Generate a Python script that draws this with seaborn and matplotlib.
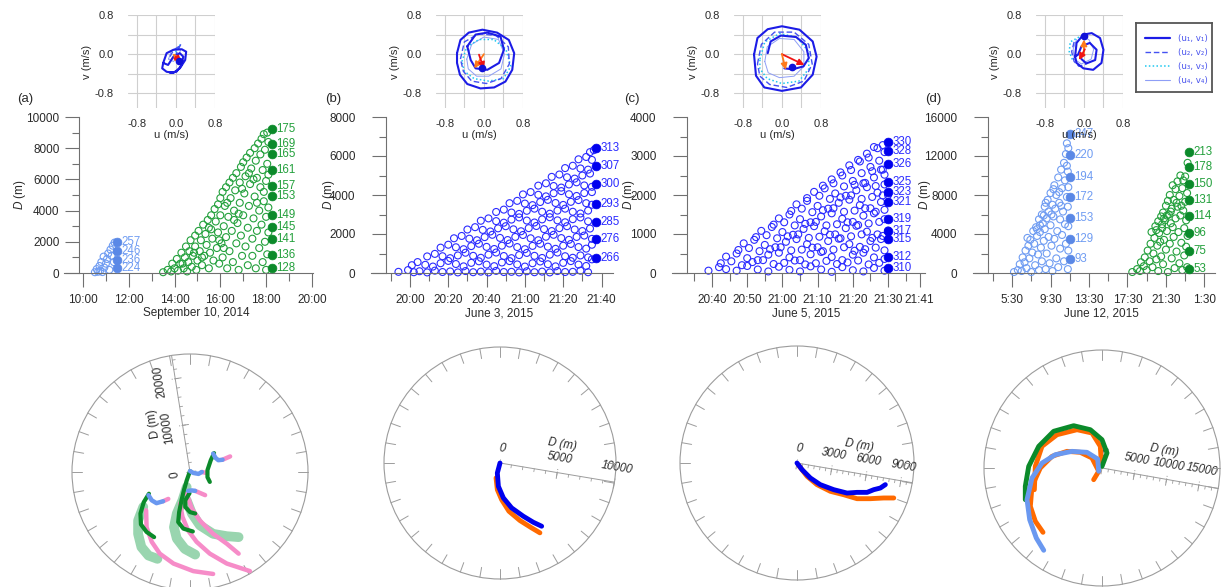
import numpy as np
import matplotlib
matplotlib.use("Agg")
import matplotlib.pyplot as plt
from matplotlib.patches import Circle
import seaborn as sns

sns.set_theme(style="white")
plt.rcParams['font.family'] = ['Liberation Sans', 'DejaVu Sans']
plt.rcParams['mathtext.fontset'] = 'custom'
plt.rcParams['mathtext.it'] = 'Liberation Sans:italic'
plt.rcParams['mathtext.rm'] = 'Liberation Sans'

# ===================== DATA =====================
# ---- Panel (a): September 10, 2014 (time in hours) ----
a_lb_t = [10.52, 10.6, 10.66, 10.72, 10.75, 10.8, 10.85, 10.9, 10.93, 11.0, 11.05, 11.1, 11.15, 11.2, 11.25, 11.3, 11.35, 11.38]
a_lb_D = [50, 250, 80, 450, 150, 700, 60, 1050, 350, 600, 900, 1250, 200, 1500, 1100, 1750, 700, 1950]
a_gr_t = [13.5, 13.7, 13.85, 13.9, 14.0, 14.1, 14.15, 14.25, 14.3, 14.4, 14.45, 14.5, 14.55, 14.6, 14.65, 14.7, 14.75, 14.8,
          14.9, 14.9, 14.95, 15.0, 15.05, 15.1, 15.15, 15.2, 15.25, 15.3, 15.35, 15.4, 15.45, 15.5, 15.5, 15.55, 15.6, 15.65,
          15.7, 15.75, 15.8, 15.85, 15.9, 15.9, 15.95, 16.0, 16.0, 16.05, 16.1, 16.1, 16.15, 16.2, 16.25, 16.25, 16.3, 16.35,
          16.4, 16.4, 16.45, 16.5, 16.55, 16.55, 16.6, 16.65, 16.7, 16.7, 16.75, 16.8, 16.85, 16.85, 16.9, 16.9, 16.95, 17.0,
          17.0, 17.05, 17.1, 17.1, 17.15, 17.2, 17.2, 17.25, 17.3, 17.3, 17.35, 17.4, 17.4, 17.45, 17.5, 17.5, 17.55, 17.55,
          17.6, 17.6, 17.65, 17.7, 17.7, 17.75, 17.75, 17.8, 17.8, 17.85, 17.85, 17.9, 17.9, 17.95, 17.95, 18.0, 18.0, 18.0,
          18.05, 18.05, 18.05, 18.1, 18.1, 18.1, 18.1,
          14.35, 14.85, 15.2, 15.6, 15.95, 16.3, 16.6, 16.95, 17.25, 17.6, 17.9, 16.15, 16.8, 17.45]
a_gr_D = [50, 200, 100, 600, 300, 900, 150, 600, 1300, 300, 1000, 1700, 100, 700, 1400, 2100, 400, 1100,
          2400, 1700, 200, 800, 2700, 1400, 2100, 500, 3100, 1100, 2500, 1800, 3400, 300, 2900, 1300, 3700, 2200,
          800, 4100, 3300, 1600, 4400, 2600, 600, 4800, 3700, 1900, 5200, 1000, 3000, 4300, 5500, 2300, 300, 3600,
          5800, 1400, 4800, 2700, 6100, 700, 4000, 5300, 1900, 6400, 3200, 200, 5800, 4500, 6800, 2400, 1100, 7100,
          3700, 5100, 6200, 1700, 7400, 2900, 500, 4300, 7700, 5700, 6700, 2200, 1100, 3500, 8000, 4900, 7200, 300,
          6100, 2700, 8300, 1600, 4000, 5500, 7600, 8600, 3100, 700, 6600, 4600, 8900, 2000, 7900, 5900, 3600, 200,
          9000, 1200, 7000, 4200, 6300, 2600, 8400,
          600, 1300, 1000, 2800, 2100, 4500, 3400, 5400, 6400, 4500, 5200, 1600, 3800, 6000]
a_lb_fill_t = [11.48, 11.48, 11.48, 11.48]
a_lb_fill_D = [1990, 1410, 830, 320]
a_lb_ids = ['257', '246', '236', '224']
a_gr_fill_t = [18.25] * 11
a_gr_fill_D = [9210, 8250, 7630, 6600, 5600, 4940, 3740, 2970, 2180, 1150, 320]
a_gr_ids = ['175', '169', '165', '161', '157', '153', '149', '145', '141', '136', '128']

# ---- Panel (b): June 3, 2015 (minutes after 20:00) ----
b_t = [-6, -1, 2, 5, 9, 13, 17, 21, 25, 29, 33, 37, 41, 45, 49, 53, 57, 61, 65, 69, 73, 77, 81, 85, 89, 93,
       1, 4, 8, 12, 16, 20, 24, 28, 32, 36, 40, 44, 48, 52, 56, 60, 64, 68, 72, 76, 80, 84, 88, 92, 95,
       9, 13, 17, 21, 25, 29, 33, 37, 41, 45, 49, 53, 57, 61, 65, 69, 73, 77, 81, 85, 89, 93,
       16, 20, 24, 28, 32, 36, 40, 44, 48, 52, 56, 60, 64, 68, 72, 76, 80, 84, 88, 92, 95,
       23, 27, 31, 35, 39, 43, 47, 51, 55, 59, 63, 67, 71, 75, 79, 83, 87, 91, 95,
       30, 34, 38, 42, 46, 50, 54, 58, 62, 66, 70, 74, 78, 82, 86, 90, 94,
       37, 41, 45, 49, 53, 57, 61, 65, 69, 73, 77, 81, 85, 89, 93,
       45, 49, 53, 57, 61, 65, 69, 73, 77, 81, 85, 89, 93,
       52, 56, 60, 64, 68, 72, 76, 80, 84, 88, 92, 95,
       59, 63, 67, 71, 75, 79, 83, 87, 91, 95,
       67, 71, 75, 79, 83, 87, 91, 95,
       74, 78, 82, 86, 90, 94,
       81, 85, 89, 93,
       88, 92, 95,
       94, 96]
b_D = [60, 150, 40, 90, 30, 120, 50, 80, 30, 100, 40, 70, 30, 110, 50, 60, 30, 90, 40, 70, 30, 100, 50, 60, 120, 40,
       400, 560, 420, 330, 500, 620, 460, 340, 520, 600, 430, 350, 540, 610, 440, 330, 500, 590, 450, 340, 520, 610, 430, 360, 700,
       850, 980, 860, 760, 900, 1040, 880, 780, 940, 1050, 870, 760, 920, 1030, 880, 770, 940, 1050, 860, 780, 900, 800,
       1300, 1450, 1320, 1220, 1380, 1500, 1340, 1230, 1400, 1510, 1330, 1220, 1390, 1500, 1350, 1240, 1400, 1490, 1330, 1250, 1450,
       1780, 1900, 1760, 1680, 1840, 1960, 1800, 1690, 1850, 1950, 1780, 1680, 1860, 1960, 1790, 1700, 1850, 1920, 1750,
       2230, 2350, 2210, 2130, 2290, 2400, 2240, 2140, 2300, 2410, 2250, 2150, 2300, 2400, 2230, 2150, 2280,
       2680, 2800, 2660, 2580, 2740, 2850, 2690, 2590, 2750, 2860, 2700, 2600, 2760, 2850, 2650,
       3130, 3250, 3100, 3030, 3190, 3300, 3140, 3040, 3200, 3300, 3140, 3050, 3200,
       3580, 3700, 3560, 3480, 3640, 3750, 3590, 3490, 3650, 3740, 3580, 3500,
       4030, 4150, 4010, 3930, 4090, 4200, 4040, 3950, 4100, 4150,
       4480, 4600, 4460, 4380, 4540, 4650, 4490, 4420,
       4930, 5050, 4910, 4840, 5000, 5100,
       5380, 5500, 5360, 5300,
       5830, 5950, 5800,
       6200, 6300]
b_fill_t = [97] * 7
b_fill_D = [6390, 5500, 4550, 3540, 2630, 1740, 790]
b_ids = ['313', '307', '300', '293', '285', '276', '266']

# ---- Panel (c): June 5, 2015 (minutes after 20:40) ----
c_t = [-1, 2, 4, 7, 10, 13, 16, 19, 22, 25, 28, 31, 34, 37, 40, 43, 46, 49,
       4, 7, 10, 13, 16, 19, 22, 25, 28, 31, 34, 37, 40, 43, 46, 49,
       9, 12, 15, 18, 21, 24, 27, 30, 33, 36, 39, 42, 45, 48,
       14, 17, 20, 23, 26, 29, 32, 35, 38, 41, 44, 47, 50,
       19, 22, 25, 28, 31, 34, 37, 40, 43, 46, 49,
       24, 27, 30, 33, 36, 39, 42, 45, 48,
       29, 32, 35, 38, 41, 44, 47, 50,
       34, 37, 40, 43, 46, 49,
       39, 42, 45, 48,
       44, 47, 49,
       2.5, 5.5, 8.5, 11.5, 14.5, 17.5, 20.5, 23.5, 26.5, 29.5, 32.5, 35.5, 38.5, 41.5, 44.5, 47.5,
       7.5, 10.5, 13.5, 16.5, 19.5, 22.5, 25.5, 28.5, 31.5, 34.5, 37.5, 40.5, 43.5, 46.5, 49.0,
       12.5, 15.5, 18.5, 21.5, 24.5, 27.5, 30.5, 33.5, 36.5, 39.5, 42.5, 45.5, 48.5,
       17.5, 20.5, 23.5, 26.5, 29.5, 32.5, 35.5, 38.5, 41.5, 44.5, 47.5,
       22.5, 25.5, 28.5, 31.5, 34.5, 37.5, 40.5, 43.5, 46.5, 49.0,
       27.0, 30.5, 33.5, 36.5, 39.5, 42.5, 45.5, 48.5,
       31.5, 34.5, 37.5, 40.5, 43.5, 46.5, 49.0,
       36.5, 39.5, 42.5, 45.5, 48.5,
       41.5, 44.5, 47.5,
       46.0, 48.5]
c_D = [60, 150, 100, 60, 180, 90, 40, 160, 80, 40, 170, 90, 30, 150, 70, 40, 130, 60,
       420, 500, 380, 330, 470, 520, 400, 330, 480, 540, 410, 330, 470, 520, 400, 360,
       760, 850, 720, 660, 800, 870, 740, 660, 820, 880, 740, 670, 820, 870,
       1080, 1180, 1050, 980, 1130, 1200, 1070, 990, 1150, 1210, 1060, 990, 1090,
       1400, 1500, 1380, 1300, 1450, 1530, 1390, 1310, 1470, 1530, 1380,
       1760, 1850, 1720, 1650, 1800, 1880, 1740, 1660, 1820,
       2080, 2170, 2040, 1980, 2120, 2200, 2060, 2000,
       2400, 2500, 2360, 2300, 2450, 2520,
       2760, 2860, 2720, 2650,
       3060, 3200, 3100,
       250, 300, 200, 280, 330, 230, 260, 320, 220, 250, 310, 230, 270, 320, 220, 260,
       590, 640, 560, 610, 660, 580, 600, 650, 560, 600, 660, 570, 610, 650, 580,
       920, 970, 890, 940, 990, 900, 930, 980, 890, 940, 990, 900, 950,
       1240, 1300, 1220, 1260, 1310, 1220, 1250, 1300, 1230, 1270, 1310,
       1590, 1650, 1560, 1610, 1660, 1570, 1600, 1660, 1570, 1620,
       1920, 1980, 1900, 1940, 1990, 1900, 1950, 1990,
       2240, 2300, 2220, 2260, 2310, 2230, 2270,
       2580, 2640, 2560, 2610, 2650,
       2900, 2960, 2880,
       3230, 3280]
c_fill_t = [50] * 11
c_fill_D = [3350, 3140, 2800, 2340, 2085, 1830, 1385, 1085, 865, 418, 136]
c_ids = ['330', '328', '326', '325', '323', '321', '319', '317', '315', '312', '310']

# ---- Panel (d): June 12, 2015 (hours) ----
d_lb_t = [5.7, 6.1, 6.3, 6.6, 6.5, 6.9, 6.8, 7.0, 7.2, 7.3, 7.1, 7.5, 7.6, 7.7, 7.8, 7.9, 8.0, 8.1, 8.2, 8.3, 8.3, 8.4,
          8.5, 8.6, 8.6, 8.7, 8.8, 8.9, 8.9, 9.0, 9.1, 9.1, 9.2, 9.3, 9.3, 9.4, 9.5, 9.5, 9.6, 9.7, 9.7, 9.8, 9.9, 9.9,
          10.0, 10.1, 10.1, 10.2, 10.3, 10.3, 10.4, 10.5, 10.5, 10.6, 10.7, 10.7, 10.8, 10.9, 10.9, 11.0, 11.0, 11.1,
          11.1, 11.2, 11.2, 11.3, 11.3, 11.3, 11.35, 11.35, 11.35, 11.35,
          7.4, 8.1, 8.8, 9.6, 10.4, 11.2, 8.4, 9.0, 9.8, 10.6]
d_lb_D = [100, 300, 900, 1600, 200, 2300, 1100, 500, 2800, 1500, 3600, 100, 2100, 4300, 3000, 800, 4700, 3800, 1900, 5500, 300, 4200,
          2600, 6000, 1200, 5100, 3300, 6800, 4500, 400, 5600, 2000, 7500, 3700, 6300, 1000, 8200, 4900, 2800, 7000, 200, 5800, 9000, 3500,
          6600, 1500, 8000, 4300, 9800, 600, 7200, 2500, 5500, 10600, 8700, 3900, 6300, 1200, 11300, 9500, 5000, 12200,
          3000, 7800, 13300, 400, 10400, 6800, 12800, 2300, 4800, 8800,
          3400, 4500, 5900, 6000, 8300, 11000, 4900, 7200, 8600, 6900]
d_gr_t = [18.0, 18.5, 18.8, 18.9, 19.2, 19.3, 19.5, 19.6, 19.8, 19.9, 20.0, 20.1, 20.2, 20.3, 20.4, 20.5, 20.6, 20.7, 20.7,
          20.8, 20.9, 21.0, 21.0, 21.1, 21.2, 21.2, 21.3, 21.4, 21.5, 21.5, 21.6, 21.7, 21.7, 21.8, 21.9, 21.9, 22.0, 22.1,
          22.1, 22.2, 22.3, 22.3, 22.4, 22.5, 22.5, 22.6, 22.7, 22.7, 22.8, 22.9, 22.9, 23.0, 23.0, 23.1, 23.2, 23.2, 23.3,
          23.3, 23.4, 23.4, 23.5, 23.5, 23.6, 23.6, 23.7, 23.7, 23.75, 23.75,
          20.5, 21.1, 21.6, 22.0, 22.6, 23.1, 21.3, 22.2]
d_gr_D = [100, 400, 200, 1100, 700, 1600, 300, 2300, 1200, 3000, 4200, 600, 2000, 3600, 4800, 1400, 2800, 5300, 200,
          4100, 3200, 5800, 1700, 4600, 6200, 900, 3400, 5400, 6900, 2400, 4300, 7400, 100, 6000, 3000, 8000, 5100, 1500,
          6600, 9000, 3700, 7500, 500, 5600, 8600, 2200, 9400, 6800, 4200, 7900, 1000, 10000, 5900, 3100, 8700, 300, 6400,
          9500, 4600, 1800, 7300, 9900, 2700, 5400, 8200, 600, 11300, 3800,
          4400, 5000, 5900, 6300, 7200, 6900, 5600, 4700]
d_lb_fill_t = [11.5] * 7
d_lb_fill_D = [14250, 12100, 9850, 7800, 5650, 3500, 1440]
d_lb_ids = ['247', '220', '194', '172', '153', '129', '93']
d_gr_fill_t = [23.9] * 8
d_gr_fill_D = [12400, 10870, 9130, 7490, 5850, 4100, 2260, 410]
d_gr_ids = ['213', '178', '150', '131', '114', '96', '75', '53']

# ---- Hodographs (u, v in m/s) ----
ha_u1 = [-0.26, -0.19, -0.05, 0.12, 0.21, 0.19, 0.08, -0.05, -0.19, -0.28, -0.26, -0.16, -0.05, 0.08, 0.15, 0.12, 0.01, -0.12]
ha_v1 = [-0.18, 0.02, 0.09, 0.10, 0.05, -0.12, -0.29, -0.38, -0.36, -0.29, -0.18, -0.22, -0.05, 0.02, -0.05, -0.22, -0.36, -0.38]
ha_u2 = [-0.12, -0.05, 0.05, 0.10, 0.05, -0.02]
ha_v2 = [-0.05, 0.08, 0.15, 0.20, 0.10, -0.05]
ha_u3 = [-0.08, 0.0, 0.08, 0.12]
ha_v3 = [-0.10, 0.05, 0.18, 0.22]
ha_u4 = [-0.15, -0.10, 0.0, 0.10, 0.05, -0.05, -0.15]
ha_v4 = [-0.10, 0.05, 0.12, 0.10, -0.05, -0.15, -0.10]
ha_arrows = [((0.03, -0.10), (-0.06, 0.02), 'orange'), ((0.0, -0.05), (0.10, -0.17), 'red')]
ha_dot = (0.07, -0.14)

hb_u1a = [-0.55, -0.48, -0.31, -0.03, 0.27, 0.51, 0.62, 0.58, 0.44, 0.21, -0.07, -0.34, -0.49, -0.55, -0.55]
hb_v1a = [0.02, 0.29, 0.44, 0.50, 0.44, 0.29, 0.02, -0.32, -0.56, -0.68, -0.70, -0.61, -0.42, -0.18, 0.02]
hb_u1b = [-0.34, -0.17, 0.07, 0.34, 0.41, 0.31, 0.07, -0.17, -0.27, -0.34]
hb_v1b = [0.16, 0.40, 0.44, 0.36, 0.09, -0.18, -0.32, -0.29, -0.12, 0.16]
hb_u2 = [-0.48, -0.40, -0.10, 0.25, 0.50, 0.52, 0.35, 0.05, -0.25, -0.42, -0.48]
hb_v2 = [-0.10, 0.25, 0.42, 0.38, 0.15, -0.20, -0.50, -0.60, -0.55, -0.35, -0.10]
hb_u3 = [-0.45, -0.35, -0.10, 0.20, 0.45, 0.55, 0.40, 0.10, -0.20, -0.40, -0.45]
hb_v3 = [-0.15, 0.15, 0.30, 0.30, 0.10, -0.25, -0.50, -0.55, -0.50, -0.35, -0.15]
hb_u4 = [-0.35, -0.25, 0.0, 0.30, 0.42, 0.35, 0.10, -0.15, -0.32, -0.35]
hb_v4 = [-0.10, 0.20, 0.35, 0.30, 0.0, -0.30, -0.45, -0.45, -0.30, -0.10]
hb_arrows = [((0.0, 0.0), (-0.20, -0.29), 'orange'), ((-0.10, -0.01), (0.0, -0.30), 'red')]
hb_dot = (-0.03, -0.29)

hc_u1a = [-0.57, -0.50, -0.29, 0.0, 0.36, 0.63, 0.71, 0.63, 0.39, 0.0, -0.36, -0.53, -0.57]
hc_v1a = [-0.01, 0.33, 0.51, 0.57, 0.50, 0.26, -0.05, -0.42, -0.68, -0.75, -0.68, -0.44, -0.01]
hc_u1b = [-0.29, -0.23, -0.02, 0.29, 0.49, 0.55, 0.44, 0.22, 0.05]
hc_v1b = [0.02, 0.26, 0.38, 0.35, 0.19, -0.08, -0.25, -0.31, -0.29]
hc_u2 = [-0.50, -0.42, -0.15, 0.25, 0.55, 0.62, 0.45, 0.10, -0.25, -0.45, -0.50]
hc_v2 = [-0.20, 0.20, 0.45, 0.45, 0.20, -0.20, -0.55, -0.68, -0.62, -0.45, -0.20]
hc_u3 = [-0.45, -0.35, -0.05, 0.30, 0.55, 0.55, 0.35, 0.0, -0.30, -0.45, -0.45]
hc_v3 = [-0.10, 0.25, 0.42, 0.35, 0.05, -0.30, -0.55, -0.60, -0.50, -0.30, -0.10]
hc_u4 = [-0.35, -0.30, -0.05, 0.25, 0.45, 0.45, 0.25, -0.05, -0.28, -0.35]
hc_v4 = [-0.15, 0.15, 0.32, 0.30, 0.05, -0.25, -0.45, -0.48, -0.38, -0.15]
hc_arrows = [((0.0, 0.0), (0.46, -0.22), 'red'), ((0.0, 0.0), (0.08, -0.32), 'orange')]
hc_dot = (0.20, -0.27)

hd_u1 = [-0.18, -0.15, -0.01, 0.16, 0.33, 0.40, 0.36, 0.19, -0.01, -0.15, -0.18, -0.12, -0.05, 0.12, 0.26, 0.23, 0.05, -0.05]
hd_v1 = [-0.05, 0.23, 0.40, 0.43, 0.33, 0.09, -0.18, -0.32, -0.29, -0.18, -0.05, -0.01, 0.16, 0.23, 0.09, -0.12, -0.19, -0.10]
hd_u2 = [-0.20, -0.25, -0.20, -0.10, 0.05]
hd_v2 = [0.25, 0.05, -0.15, -0.25, -0.20]
hd_u3 = [-0.10, -0.28, -0.30, -0.22]
hd_v3 = [0.35, 0.25, 0.05, -0.15]
hd_u4 = [-0.15, -0.22, -0.20, -0.05, 0.15, 0.20, 0.10, -0.05]
hd_v4 = [0.30, 0.10, -0.10, -0.20, -0.10, 0.10, 0.30, 0.35]
hd_arrows = [((0.0, 0.0), (0.0, 0.30), 'orange'), ((0.02, 0.10), (-0.10, -0.12), 'red')]
hd_dot = (0.0, 0.37)

# ---- Trajectories in polar panels (x, y in metres) ----
pa_dkgreen = [
    ([0, -700, -1300, -1800, -2300, -2500, -1400, 600], [200, -1800, -3900, -6000, -8500, -10600, -12000, -12600]),
    ([-100, -1000, -1000, 0, 1100], [-4500, -6000, -7400, -8500, -8800]),
    ([-8700, -9800, -10500, -10400, -9200, -7600], [-4600, -6400, -8800, -11100, -12700, -13800]),
    ([5100, 4400, 3700, 3700, 4200], [4000, 2500, 400, -1100, -2100]),
]
pa_ltgreen = [
    ([-700, -1600, -2800, -3400, -2800, -1100, 1100], [-3200, -6000, -8800, -11700, -14100, -16300, -17500]),
    ([-700, 400, 2100, 4900, 7800, 10300], [-6000, -8800, -11300, -13100, -13600, -13800]),
    ([-9900, -11000, -11000, -10300, -8800, -6900], [-7400, -10300, -13100, -15900, -17700, -18400]),
]
pa_pink = [
    ([-9300, -9200, -8100, -6400, -3500, 700, 4900], [-8100, -11700, -14800, -17300, -19400, -21000, -21600]),
    ([-2100, -1600, -400, 1400, 4200, 7800, 12700], [-6700, -9500, -12400, -14800, -17300, -19400, -21000]),
    ([-700, 400, 2100, 4900, 7800, 10300], [-4600, -7800, -10300, -13100, -15200, -17300]),
    ([-5700, -4600], [-6200, -5700]),
    ([6900, 8500], [2600, 3300]),
    ([2500, 3500], [0, -200]),
    ([1100, 3200], [-4000, -4900]),
]
pa_blue = [
    ([-8800, -8100, -7100, -5700], [-4900, -6000, -6600, -6200]),
    ([4900, 5400, 6000, 6900], [3900, 3000, 2500, 2600]),
    ([0, 700, 1800, 2500], [200, -200, -400, 0]),
    ([-400, 400, 1100], [-4000, -3900, -4000]),
]
pb_blue_x = [0, -230, -140, 290, 1000, 2010, 2870, 3590]
pb_blue_y = [0, -860, -2010, -3010, -3870, -4590, -5110, -5450]
pb_orange_x = [-340, -230, 140, 770, 1720, 2720, 3440]
pb_orange_y = [-1290, -2300, -3160, -4160, -4960, -5590, -6020]
pc_blue_x = [0, 430, 1140, 1990, 3140, 4280, 5130, 5990, 6560, 7120, 7550]
pc_blue_y = [0, -570, -1280, -1850, -2280, -2570, -2510, -2510, -2280, -2140, -1850]
pc_orange_x = [140, 860, 1710, 2850, 3990, 5130, 6270, 7410, 8270]
pc_orange_y = [-200, -1140, -1850, -2420, -2710, -3050, -3050, -2990, -2990]
pd_green_x = [0, 760, 0, -1780, -4320, -7370, -9650, -11180, -11700, -11700]
pd_green_y = [250, 2290, 4320, 5840, 6450, 5600, 3310, 250, -2790, -4830]
pd_orange1_x = [-100, -260, -1530, -3810, -6860, -9150, -10170, -10320]
pd_orange1_y = [760, 3310, 5340, 5840, 5080, 3310, 260, -3310]
pd_orange2_x = [-1270, -500, -1530, -3310, -5340, -7630, -9410, -10680, -10930, -10170, -9000]
pd_orange2_y = [-1780, -500, 1530, 2390, 2540, 1780, 0, -2790, -5840, -8130, -9810]
pd_blue_x = [-500, -660, -2290, -4580, -7120, -9150, -10680, -11440, -11030, -10020, -8890]
pd_blue_y = [-500, 1370, 2390, 2540, 2030, 760, -1530, -4830, -7880, -10680, -12550]

legend_labels = ['(u\u2081, v\u2081)', '(u\u2082, v\u2082)', '(u\u2083, v\u2083)', '(u\u2084, v\u2084)']

# ===================== STYLE =====================
W, H = 1226, 587
fig = plt.figure(figsize=(W / 100, H / 100), dpi=100)
fig.patch.set_facecolor('white')

C_LB_OPEN = '#6f9cf2'
C_LB_FILL = '#5a88e6'
C_GR_OPEN = '#23a03c'
C_GR_FILL = '#0b8a2a'
C_BL_OPEN = '#2b2bff'
C_BL_FILL = '#0000ee'
C_ORANGE = '#ff6a00'
C_PINK = '#f68cc8'
C_LTGREEN = '#55b97a'
AXC = '#707070'
TXT = '#2a2a2a'
ARROWC = {'orange': '#ff7a1a', 'red': '#f01414'}


def px_ax(l, t, w, h):
    return fig.add_axes([l / W, 1 - (t + h) / H, w / W, h / H])


def ftext(x, y, s, **kw):
    fig.text(x / W, 1 - y / H, s, **kw)


def open_pts(ax, t, D, col):
    sns.scatterplot(x=t, y=D, ax=ax, s=25, facecolor='none', edgecolor=col, linewidth=0.8,
                    legend=False, zorder=2, clip_on=False)


def fill_pts(ax, t, D, ids, col, lcol):
    sns.scatterplot(x=t, y=D, ax=ax, s=40, color=col, edgecolor=col, linewidth=0.5,
                    legend=False, zorder=3, clip_on=False)
    for x, y, s in zip(t, D, ids):
        ax.annotate(s, (x, y), xytext=(3.2, 0), textcoords='offset points', va='center', ha='left',
                    fontsize=8.3, color=lcol, annotation_clip=False, zorder=4)


def scatter_axes(l, r, xlim, ylim, xmaj, xlab, xmin, ymaj, ymin, xlabel, ypad):
    ax = px_ax(l, 117, r - l, 156)
    ax.set_facecolor('none')
    ax.set_xlim(*xlim)
    ax.set_ylim(*ylim)
    for s in ['top', 'right']:
        ax.spines[s].set_visible(False)
    for s in ['left', 'bottom']:
        ax.spines[s].set_color(AXC)
        ax.spines[s].set_linewidth(0.8)
    ext = (xlim[1] - xlim[0]) * 15 / (r - l)
    ax.spines['bottom'].set_bounds(xlim[0] - ext, xlim[1])
    ax.set_xticks(xmaj)
    ax.set_xticklabels(xlab)
    ax.set_xticks(xmin, minor=True)
    ax.set_yticks(ymaj)
    ax.set_yticklabels([str(v) for v in ymaj])
    ax.set_yticks(ymin, minor=True)
    ax.tick_params(axis='x', which='major', direction='out', length=10, width=0.8, color=AXC,
                   labelsize=8.5, labelcolor=TXT, pad=5, bottom=True)
    ax.tick_params(axis='x', which='minor', direction='out', length=6, width=0.8, color=AXC, bottom=True)
    ax.tick_params(axis='y', which='major', direction='out', length=10, width=0.8, color=AXC,
                   labelsize=8.5, labelcolor=TXT, pad=ypad, left=True)
    ax.tick_params(axis='y', which='minor', direction='out', length=5, width=0.8, color=AXC, left=True)
    ax.set_xlabel(xlabel, fontsize=8.5, color=TXT, labelpad=1)
    ax.set_ylabel('')
    ax.grid(False)
    return ax


def hodograph(left, u1_segs, u2, u3, u4, arrows, dot):
    ax = px_ax(left, 15, 87, 93)
    ax.set_facecolor('none')
    ax.set_xlim(-0.98, 0.8)
    ax.set_ylim(-1.1, 0.8)
    for s in ax.spines.values():
        s.set_visible(False)
    g = [-0.8, -0.4, 0.0, 0.4, 0.8]
    ax.set_xticks(g)
    ax.set_xticklabels(['-0.8', '', '0.0', '', '0.8'])
    ax.set_yticks(g)
    ax.set_yticklabels(['-0.8', '', '0.0', '', '0.8'])
    ax.grid(True, color='#cfcfcf', lw=0.8)
    ax.tick_params(axis='x', length=0, pad=8, labelsize=8, labelcolor=TXT)
    ax.tick_params(axis='y', length=0, pad=10, labelsize=8, labelcolor=TXT)
    ax.set_xlabel('u (m/s)', fontsize=8, color=TXT, labelpad=1)
    ax.set_ylabel('v (m/s)', fontsize=8, color=TXT, labelpad=2)
    sns.lineplot(x=u4[0], y=u4[1], sort=False, estimator=None, ax=ax, color='#8e9ef6', lw=0.7, legend=False)
    sns.lineplot(x=u3[0], y=u3[1], sort=False, estimator=None, ax=ax, color='#1ec8f0', lw=1.1,
                 linestyle=(0, (1, 1.5)), legend=False)
    sns.lineplot(x=u2[0], y=u2[1], sort=False, estimator=None, ax=ax, color='#4452f2', lw=1.0,
                 linestyle=(0, (4, 2)), legend=False)
    for uu, vv in u1_segs:
        sns.lineplot(x=uu, y=vv, sort=False, estimator=None, ax=ax, color='#1c1ce6', lw=1.5, legend=False)
    for (x0, y0), (x1, y1), c in arrows:
        ax.annotate('', xy=(x1, y1), xytext=(x0, y0),
                    arrowprops=dict(arrowstyle='-|>', color=ARROWC[c], lw=1.3, mutation_scale=9,
                                    shrinkA=0, shrinkB=0), zorder=5)
    ax.plot([dot[0]], [dot[1]], 'o', color='#1010d8', ms=4.5, zorder=6)
    return ax


def polar_frame(cx, cy, R, Rpx, theta_deg, major_vals, major_txt, minor_step, dlab_r, italic):
    hs = 130
    ax = px_ax(cx - hs, cy - hs, 2 * hs, 2 * hs)
    m = R / Rpx
    L = hs * m
    ax.set_xlim(-L, L)
    ax.set_ylim(-L, L)
    ax.set_aspect('equal', adjustable='box')
    ax.axis('off')
    gray = '#9c9c9c'
    ax.add_patch(Circle((0, 0), R, fill=False, ec=gray, lw=0.8))
    for ang in np.arange(0, 360, 10):
        a = np.deg2rad(ang)
        ax.plot([np.cos(a) * (R - 10 * m), np.cos(a) * R], [np.sin(a) * (R - 10 * m), np.sin(a) * R],
                color=gray, lw=0.7)
    th = np.deg2rad(theta_deg)
    rh = np.array([np.cos(th), np.sin(th)])
    nh = np.array([-np.sin(th), np.cos(th)])
    ax.plot([0, rh[0] * R], [0, rh[1] * R], color=gray, lw=0.7)
    for r in np.arange(minor_step, R, minor_step):
        p = rh * r
        q = p - nh * 3 * m
        ax.plot([p[0], q[0]], [p[1], q[1]], color=gray, lw=0.6)
    for v in major_vals:
        p = rh * v
        q = p - nh * 6 * m
        q2 = p + nh * 5 * m
        ax.plot([p[0], q[0]], [p[1], q[1]], color=gray, lw=0.7)
        ax.plot([p[0], q2[0]], [p[1], q2[1]], color=gray, lw=0.7, ls=':')
    st = 'italic' if italic else 'normal'
    for v, t in zip(major_vals, major_txt):
        p = rh * v + nh * 15 * m
        ax.text(p[0], p[1], t, rotation=theta_deg, ha='center', va='center', fontsize=8.3,
                style=st, color=TXT, rotation_mode='anchor', zorder=1)
    p = rh * dlab_r + nh * 28 * m
    ax.text(p[0], p[1], 'D (m)', rotation=theta_deg, ha='center', va='center', fontsize=8.3,
            style=st, color=TXT, rotation_mode='anchor', zorder=1)
    return ax


def traj(ax, x, y, col, lw, alpha=1.0):
    sns.lineplot(x=x, y=y, sort=False, estimator=None, ax=ax, color=col, lw=lw, alpha=alpha,
                 legend=False, solid_capstyle='round', zorder=3)


def hm(h):
    hh = int(h) % 24
    mm = int(round((h - int(h)) * 60))
    return f'{hh}:{mm:02d}'


# ===================== SCATTER PANELS =====================
ax_a = scatter_axes(79, 313, (9.825, 20.05), (0, 10000),
                    [10, 12, 14, 16, 18, 20], ['10:00', '12:00', '14:00', '16:00', '18:00', '20:00'],
                    list(range(10, 21)), list(range(0, 10001, 2000)), list(range(0, 10001, 1000)),
                    'September 10, 2014', 4)
open_pts(ax_a, a_lb_t, a_lb_D, C_LB_OPEN)
open_pts(ax_a, a_gr_t, a_gr_D, C_GR_OPEN)
fill_pts(ax_a, a_lb_fill_t, a_lb_fill_D, a_lb_ids, C_LB_FILL, C_LB_OPEN)
fill_pts(ax_a, a_gr_fill_t, a_gr_fill_D, a_gr_ids, C_GR_FILL, C_GR_OPEN)

bmaj = [0, 20, 40, 60, 80, 100]
ax_b = scatter_axes(386, 613, (-12.5, 106), (0, 8000),
                    bmaj, ['20:00', '20:20', '20:40', '21:00', '21:20', '21:40'],
                    list(range(-10, 106, 10)), list(range(0, 8001, 2000)), list(range(0, 8001, 1000)),
                    'June 3, 2015', 12)
open_pts(ax_b, b_t, b_D, C_BL_OPEN)
fill_pts(ax_b, b_fill_t, b_fill_D, b_ids, C_BL_FILL, C_BL_OPEN)

ax_c = scatter_axes(687, 925, (-7.1, 60.5), (0, 4000),
                    [0, 10, 20, 30, 40, 50, 59], ['20:40', '20:50', '21:00', '21:10', '21:20', '21:30', '21:41'],
                    list(range(-5, 60, 5)), list(range(0, 4001, 1000)), list(range(0, 4001, 500)),
                    'June 5, 2015', 12)
open_pts(ax_c, c_t, c_D, C_BL_OPEN)
fill_pts(ax_c, c_fill_t, c_fill_D, c_ids, C_BL_FILL, C_BL_OPEN)

dmaj = [5.5, 9.5, 13.5, 17.5, 21.5, 25.5]
ax_d = scatter_axes(988, 1215, (3.0, 26.6), (0, 16000),
                    dmaj, [hm(v) for v in dmaj],
                    [3.5 + 2 * i for i in range(12)], list(range(0, 16001, 4000)), list(range(0, 16001, 2000)),
                    'June 12, 2015', 12)
open_pts(ax_d, d_lb_t, d_lb_D, C_LB_OPEN)
open_pts(ax_d, d_gr_t, d_gr_D, C_GR_OPEN)
fill_pts(ax_d, d_lb_fill_t, d_lb_fill_D, d_lb_ids, C_LB_FILL, C_LB_OPEN)
fill_pts(ax_d, d_gr_fill_t, d_gr_fill_D, d_gr_ids, C_GR_FILL, C_GR_OPEN)

for x, letter in [(25, '(a)'), (333, '(b)'), (632, '(c)'), (933, '(d)')]:
    ftext(x, 99, letter, fontsize=9.5, color=TXT, ha='center', va='center')
for x in [20, 329, 629, 925]:
    ftext(x, 195, '$D$ (m)', fontsize=8.5, color=TXT, rotation=90, ha='center', va='center')

# ===================== HODOGRAPHS =====================
hodograph(128, [(ha_u1, ha_v1)], (ha_u2, ha_v2), (ha_u3, ha_v3), (ha_u4, ha_v4), ha_arrows, ha_dot)
hodograph(436, [(hb_u1a, hb_v1a), (hb_u1b, hb_v1b)], (hb_u2, hb_v2), (hb_u3, hb_v3), (hb_u4, hb_v4),
          hb_arrows, hb_dot)
hodograph(734, [(hc_u1a, hc_v1a), (hc_u1b, hc_v1b)], (hc_u2, hc_v2), (hc_u3, hc_v3), (hc_u4, hc_v4),
          hc_arrows, hc_dot)
hodograph(1036, [(hd_u1, hd_v1)], (hd_u2, hd_v2), (hd_u3, hd_v3), (hd_u4, hd_v4), hd_arrows, hd_dot)

lg = px_ax(1136, 23, 76, 69)
lg.set_xlim(0, 76)
lg.set_ylim(69, 0)
lg.set_xticks([])
lg.set_yticks([])
for s in lg.spines.values():
    s.set_color('#555555')
    s.set_linewidth(1.3)
lg_styles = [dict(color='#1c1ce6', lw=1.6, ls='-'), dict(color='#4452f2', lw=1.0, ls=(0, (4, 2))),
             dict(color='#1ec8f0', lw=1.1, ls=(0, (1, 1.5))), dict(color='#8e9ef6', lw=0.8, ls='-')]
for i, (lab, stl) in enumerate(zip(legend_labels, lg_styles)):
    yy = 15 + 14 * i
    lg.plot([9, 34], [yy, yy], **stl)
    lg.text(42, yy, lab, fontsize=6.3, color='#4b55ee', va='center', ha='left',
            family=['DejaVu Sans'])

# ===================== POLAR PANELS =====================
pa = polar_frame(190, 472, 25000, 118, 99, [0, 10000, 20000], ['0', '10000', '20000'], 2000, 11300, False)
for x, y in pa_ltgreen:
    traj(pa, x, y, C_LTGREEN, 7, alpha=0.6)
for x, y in pa_pink:
    traj(pa, x, y, C_PINK, 3.2)
for x, y in pa_dkgreen:
    traj(pa, x, y, C_GR_FILL, 3.0)
for x, y in pa_blue:
    traj(pa, x, y, '#6a98f0', 3.2)

pb = polar_frame(500, 463, 10000, 116, -9.5, [0, 5000, 10000], ['0', '5000', '10000'], 1000, 5000, True)
traj(pb, pb_orange_x, pb_orange_y, C_ORANGE, 3.5)
traj(pb, pb_blue_x, pb_blue_y, C_BL_FILL, 3.5)

pc = polar_frame(797, 463, 10000, 117, -9.7, [0, 3000, 6000, 9000], ['0', '3000', '6000', '9000'], 500, 5000, True)
traj(pc, pc_orange_x, pc_orange_y, C_ORANGE, 3.5)
traj(pc, pc_blue_x, pc_blue_y, C_BL_FILL, 3.5)

pdx = polar_frame(1102, 468, 18000, 118, -10, [0, 5000, 10000, 15000], ['0', '5000', '10000', '15000'], 1000, 8850, True)
traj(pdx, pd_orange1_x, pd_orange1_y, C_ORANGE, 3.5)
traj(pdx, pd_orange2_x, pd_orange2_y, C_ORANGE, 3.5)
traj(pdx, pd_green_x, pd_green_y, C_GR_FILL, 3.5)
traj(pdx, pd_blue_x, pd_blue_y, '#6a98f0', 3.5)

fig.savefig('out.png', dpi=100, facecolor='white')
